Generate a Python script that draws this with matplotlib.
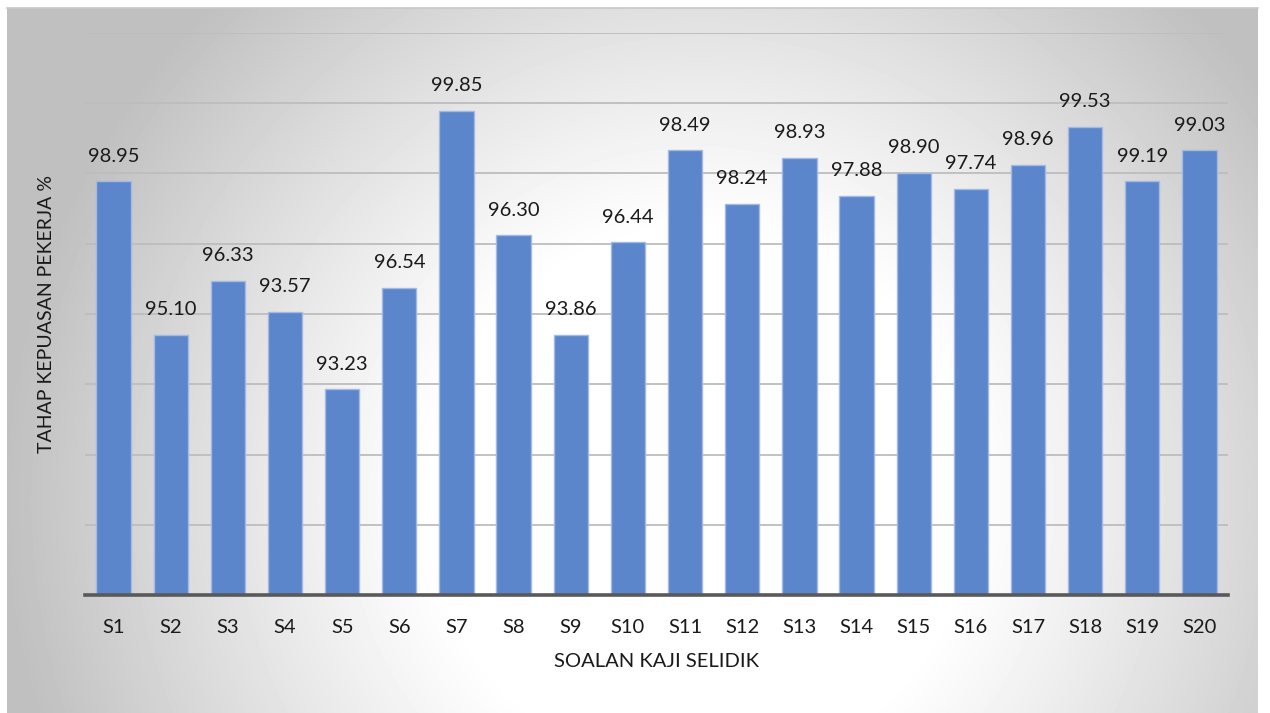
import numpy as np
import matplotlib
matplotlib.use('Agg')
import matplotlib.pyplot as plt

plt.rcParams['font.family'] = ['Lato', 'DejaVu Sans']

# ── Data ──
soalan = [f'S{i}' for i in range(1, 21)]
# tinggi bar (skala paksi 92-100)
tinggi = [97.89, 95.70, 96.47, 96.03, 94.93, 96.37, 98.89, 97.12, 95.70, 97.02,
          98.33, 97.57, 98.22, 97.68, 98.01, 97.78, 98.12, 98.66, 97.89, 98.33]
# label data seperti tertulis pada carta
label = ['98.95', '95.10', '96.33', '93.57', '93.23', '96.54', '99.85', '96.30',
         '93.86', '96.44', '98.49', '98.24', '98.93', '97.88', '98.90', '97.74',
         '98.96', '99.53', '99.19', '99.03']
y_min, y_max, y_step = 92, 100, 1

BAR_COLOR = '#5b86cc'
EDGE_COLOR = '#a3b9e2'

W, H = 1270, 713
fig = plt.figure(figsize=(W / 100, H / 100), dpi=100)
fig.patch.set_facecolor('white')

# ── Latar panel: gradient jejari (putih di tengah, kelabu di tepi) ──
px0, px1, py0, py1 = 7, 1258, 8, 713
bg = fig.add_axes([px0 / W, 1 - py1 / H, (px1 - px0) / W, (py1 - py0) / H], zorder=0)
gy, gx = np.mgrid[py0:py1, px0:px1]
r = np.sqrt(((gx - 700) / 700.0) ** 2 + ((gy - 500) / 700.0) ** 2)
val = 1 - 0.25 * np.clip((r - 0.38) / 0.62, 0, 1) ** 1.1
bg.imshow(val, cmap='gray', vmin=0, vmax=1, aspect='auto', interpolation='bilinear')
bg.axis('off')
fig.add_artist(plt.Line2D([px0 / W, px1 / W], [1 - py0 / H, 1 - py0 / H],
                          color='#c8c8c8', lw=1.2))

# ── Carta ──
ax = fig.add_axes([85 / W, 1 - 595 / H, (1228 - 85) / W, (595 - 33) / H], zorder=1)
ax.set_facecolor('none')
x = np.arange(len(soalan))
ax.bar(x, np.array(tinggi) - y_min, bottom=y_min, width=0.6,
       color=BAR_COLOR, edgecolor=EDGE_COLOR, linewidth=1.0, zorder=3)
for xi, h, t in zip(x, tinggi, label):
    ax.annotate(t, xy=(xi, h), xytext=(0, 12), textcoords='offset points',
                ha='center', va='bottom', fontsize=14.5, color='#1a1a1a', zorder=4)

ax.set_xlim(-0.5, len(soalan) - 0.5)
ax.set_ylim(y_min, y_max)
ax.set_yticks(np.arange(y_min, y_max + 0.01, y_step))
ax.yaxis.grid(True, color='#bdbdbd', lw=1.3, zorder=1)
ax.tick_params(axis='y', left=False, labelleft=False)
ax.tick_params(axis='x', bottom=False, labelsize=14.5, colors='#1a1a1a', pad=14)
ax.set_xticks(x)
ax.set_xticklabels(soalan)
for s in ['top', 'right', 'left']:
    ax.spines[s].set_visible(False)
ax.spines['bottom'].set_color('#595959')
ax.spines['bottom'].set_linewidth(2.6)
ax.spines['bottom'].set_zorder(5)

ax.set_xlabel('SOALAN KAJI SELIDIK', fontsize=14.5, color='#1a1a1a', labelpad=12)
ax.set_ylabel('TAHAP KEPUASAN PEKERJA %', fontsize=14, color='#1a1a1a')
ax.yaxis.set_label_coords(-0.026, 0.5)

fig.savefig('out.png', dpi=100)
